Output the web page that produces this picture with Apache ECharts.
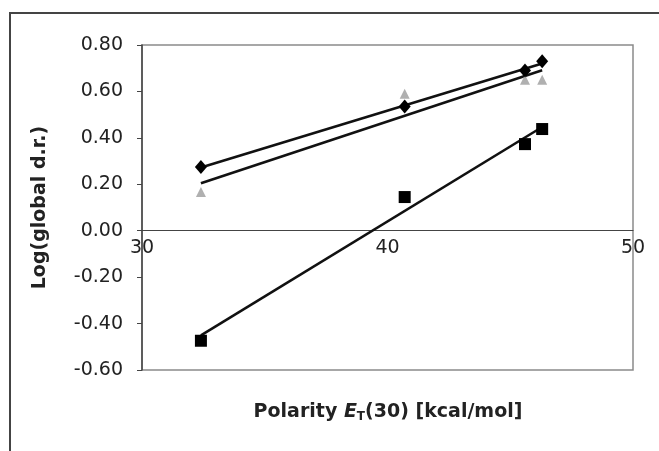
<!DOCTYPE html>
<html><head><meta charset="utf-8">
<script src="https://cdn.jsdelivr.net/npm/echarts@6/dist/echarts.min.js"></script>
<style>html,body{margin:0;padding:0;background:#fff}#c{width:659px;height:451px}</style>
</head><body><div id="c"></div>
<script>
const polarity = [32.4, 40.7, 45.6, 46.3];
const diamondVals = [0.275, 0.535, 0.69, 0.73];
const triangleVals = [0.167, 0.59, 0.65, 0.65];
const squareVals = [-0.474, 0.145, 0.373, 0.438];
const xTicks = [30, 40, 50];
const yTicks = [-0.6, -0.4, -0.2, 0, 0.2, 0.4, 0.6, 0.8];

function pts(ys){ return polarity.map((x,i)=>[x, ys[i]]); }
function trend(ys){
  const n = polarity.length;
  const mx = polarity.reduce((a,b)=>a+b,0)/n, my = ys.reduce((a,b)=>a+b,0)/n;
  let sxy=0, sxx=0;
  polarity.forEach((x,i)=>{ sxy += (x-mx)*(ys[i]-my); sxx += (x-mx)*(x-mx); });
  const b = sxy/sxx, a = my - b*mx;
  const x0 = Math.min(...polarity), x1 = Math.max(...polarity);
  return [[x0, a+b*x0],[x1, a+b*x1]];
}

const gridTop = 45, gridBottom = 81, H = 451;
const yMin = yTicks[0], yMax = yTicks[yTicks.length-1];
const plotH = H - gridTop - gridBottom;
const zeroOffset = -plotH * (0 - yMin) / (yMax - yMin);

const chart = echarts.init(document.getElementById('c'), null, {renderer:'canvas'});
const F = 'DejaVu Sans';
const lineStyle = {color:'#111', width:2.6};
chart.setOption({
  animation:false,
  backgroundColor:'#fff',
  grid:{left:142, right:26, top:gridTop, bottom:gridBottom, show:true, borderColor:'#8a8a8a', borderWidth:1.5},
  xAxis:{type:'value', min:xTicks[0], max:xTicks[xTicks.length-1], interval:10,
    position:'bottom', offset:zeroOffset,
    axisLine:{onZero:false, lineStyle:{color:'#444', width:1.2}},
    axisTick:{show:false}, splitLine:{show:false},
    axisLabel:{fontFamily:F, fontSize:19, color:'#222', margin:8}},
  yAxis:{type:'value', min:yMin, max:yMax, interval:0.2,
    axisLine:{show:true, onZero:false, lineStyle:{color:'#444', width:1.5}},
    axisTick:{show:true, length:5, lineStyle:{color:'#444'}}, splitLine:{show:false},
    axisLabel:{fontFamily:F, fontSize:19, color:'#222', margin:19, formatter:v=>v.toFixed(2)},
    name:'Log(global d.r.)', nameLocation:'middle', nameRotate:90, nameGap:92,
    nameTextStyle:{fontFamily:F, fontSize:19, fontWeight:'bold', color:'#222'}},
  graphic:[
    {type:'rect', shape:{x:10, y:13, width:700, height:500}, style:{fill:'none', stroke:'#444', lineWidth:2}, z:-1},
    {type:'text', x:388, y:412, style:{
      text:'{b|Polarity }{e|E}{s|T}{b|(30) [kcal/mol]}', align:'center', verticalAlign:'middle',
      rich:{
        b:{fontFamily:F, fontSize:19, fontWeight:'bold', fill:'#222', lineHeight:24},
        e:{fontFamily:F, fontSize:19, fontWeight:'bold', fontStyle:'italic', fill:'#222', lineHeight:24},
        s:{fontFamily:F, fontSize:12, fontWeight:'bold', fill:'#222', lineHeight:24, padding:[10,0,0,0]}
      }}}
  ],
  series:[
    {type:'line', data:trend(squareVals), symbol:'none', lineStyle, z:2},
    {type:'line', data:trend(triangleVals), symbol:'none', lineStyle, z:2},
    {type:'line', data:trend(diamondVals), symbol:'none', lineStyle, z:2},
    {type:'scatter', data:pts(triangleVals), symbol:'triangle', symbolSize:10, itemStyle:{color:'#b0b0b0', opacity:1}, z:3},
    {type:'scatter', data:pts(squareVals), symbol:'rect', symbolSize:12, itemStyle:{color:'#000', opacity:1}, z:4},
    {type:'scatter', data:pts(diamondVals), symbol:'diamond', symbolSize:[12,14], itemStyle:{color:'#000', opacity:1}, z:4}
  ]
});
</script></body></html>
